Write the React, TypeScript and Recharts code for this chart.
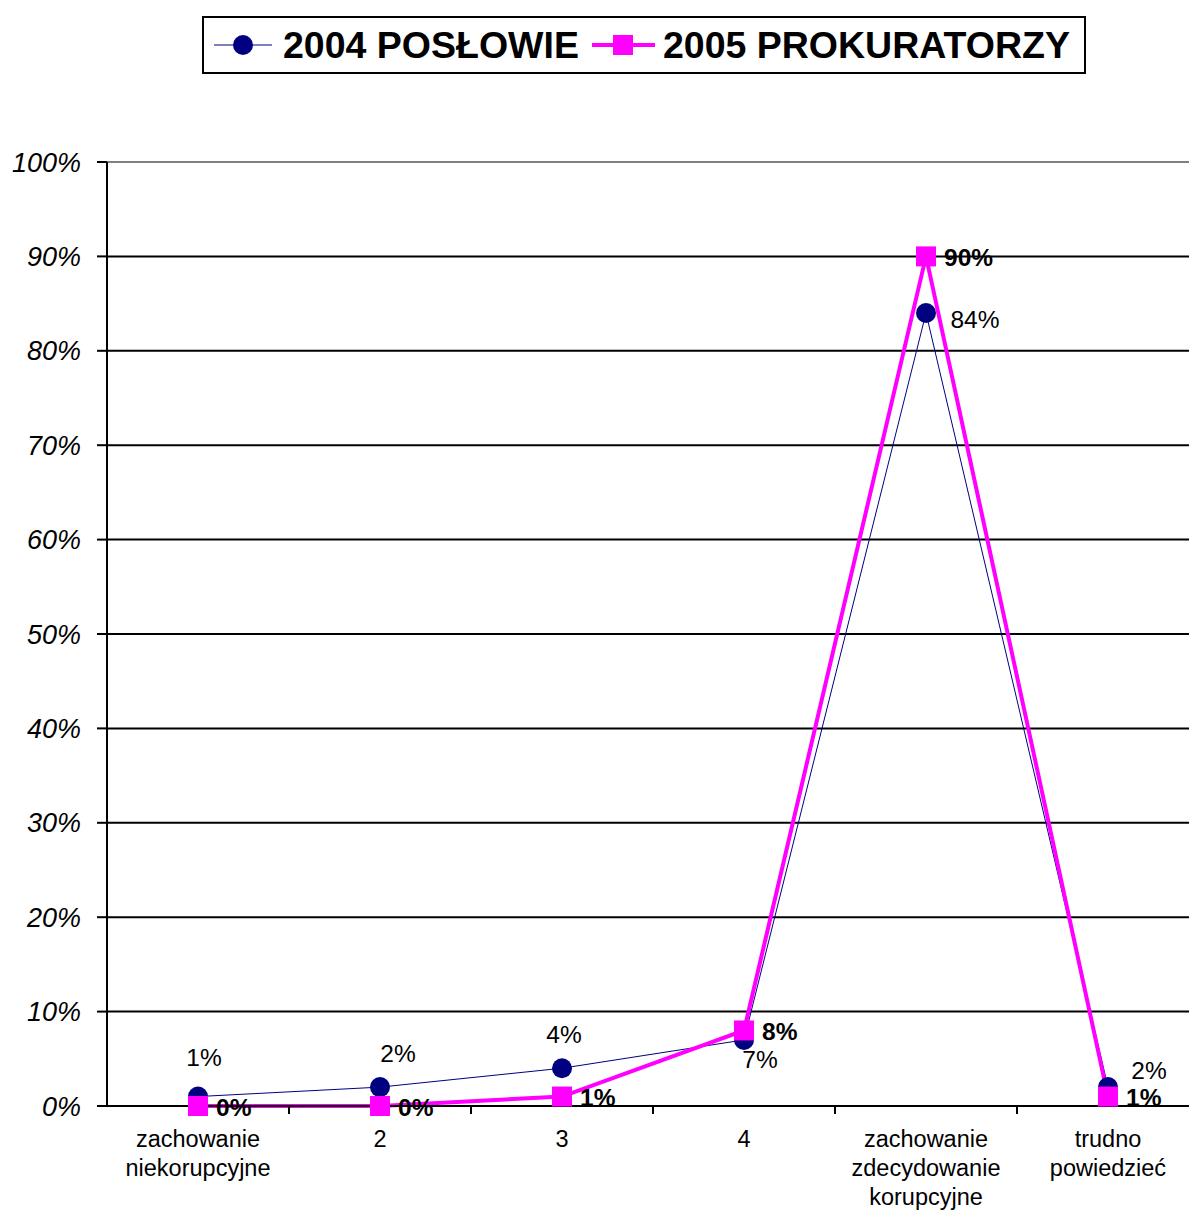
import React from 'react';
import { LineChart, Line, XAxis, YAxis, CartesianGrid, Legend, LabelList, ReferenceLine } from 'recharts';

const categories = [
  'zachowanie\nniekorupcyjne',
  '2',
  '3',
  '4',
  'zachowanie\nzdecydowanie\nkorupcyjne',
  'trudno\npowiedzieć',
];
const poslowie2004 = [1, 2, 4, 7, 84, 2];
const prokuratorzy2005 = [0, 0, 1, 8, 90, 1];
const yTicks = [0, 10, 20, 30, 40, 50, 60, 70, 80, 90, 100];
const seriesNames = ['2004 POSŁOWIE', '2005 PROKURATORZY'];

const data = categories.map((c, i) => ({
  cat: c,
  s2004: poslowie2004[i],
  s2005: prokuratorzy2005[i],
}));

const FONT = '"Liberation Sans", Arial, sans-serif';
const NAVY = '#000080';
const MAGENTA = '#FF00FF';

// label placement (style) for the 2004 series, per point
const label2004Offsets: [number, number][] = [
  [6, -39],
  [18, -34],
  [2, -34],
  [16, 20],
  [49, 6],
  [41, -17],
];

const CategoryTick = (props: any) => {
  const { x, y, payload } = props;
  const lines = String(payload.value).split('\n');
  const half = payload.offset ?? 0;
  return (
    <g>
      <line x1={x + half} x2={x + half} y1={y - 8} y2={y} stroke="#000" strokeWidth={2} />
      <text x={x} y={y} textAnchor="middle" fontFamily={FONT} fontSize={23.5} fill="#000">
        {lines.map((l, i) => (
          <tspan key={i} x={x} dy={i === 0 ? 33 : 29}>
            {l}
          </tspan>
        ))}
      </text>
    </g>
  );
};

const CircleDot = (props: any) => {
  const { cx, cy, index } = props;
  if (cx == null || cy == null) return <g key={index} />;
  return <circle key={index} cx={cx} cy={cy} r={10} fill={NAVY} />;
};

const SquareDot = (props: any) => {
  const { cx, cy, index } = props;
  if (cx == null || cy == null) return <g key={index} />;
  return <rect key={index} x={cx - 10} y={cy - 10} width={20} height={20} fill={MAGENTA} />;
};

const Label2004 = (props: any) => {
  const { x, y, value, index } = props;
  const [dx, dy] = label2004Offsets[index] || [0, -20];
  return (
    <text
      x={x + dx}
      y={y + dy}
      textAnchor="middle"
      dominantBaseline="central"
      fontFamily={FONT}
      fontSize={24.5}
      fill="#000"
    >
      {value}%
    </text>
  );
};

const Label2005 = (props: any) => {
  const { x, y, value } = props;
  return (
    <text
      x={x + 18}
      y={y + 1}
      textAnchor="start"
      dominantBaseline="central"
      fontFamily={FONT}
      fontSize={24.5}
      fontWeight="bold"
      fill="#000"
    >
      {value}%
    </text>
  );
};

const LegendContent = () => (
  <div
    style={{
      boxSizing: 'border-box',
      height: 58,
      width: 884,
      border: '2px solid #000',
      display: 'flex',
      alignItems: 'center',
      fontFamily: FONT,
      fontWeight: 'bold',
      fontSize: 37.5,
      color: '#000',
      background: '#fff',
      whiteSpace: 'nowrap',
    }}
  >
    <svg width={58} height={24} style={{ marginLeft: 10, marginRight: 11, flex: 'none' }}>
      <line x1={0} x2={58} y1={12} y2={12} stroke={NAVY} strokeWidth={1} />
      <circle cx={29} cy={12} r={10} fill={NAVY} />
    </svg>
    <span>{seriesNames[0]}</span>
    <svg width={63} height={24} style={{ marginLeft: 13, marginRight: 8, flex: 'none' }}>
      <line x1={0} x2={63} y1={12} y2={12} stroke={MAGENTA} strokeWidth={4} />
      <rect x={21} y={2} width={20} height={20} fill={MAGENTA} />
    </svg>
    <span>{seriesNames[1]}</span>
  </div>
);

export default function App() {
  return (
    <div
      style={{
        position: 'absolute',
        left: 0,
        top: 0,
        width: 1189,
        height: 1212,
        overflow: 'hidden',
        background: '#fff',
      }}
    >
      <LineChart
        width={1199}
        height={1212}
        data={data}
        margin={{ top: 104, right: 0, bottom: 0, left: 0 }}
      >
        <CartesianGrid vertical={false} stroke="#000" strokeWidth={2} />
        <ReferenceLine y={100} stroke="#808080" strokeWidth={2} />
        <XAxis
          dataKey="cat"
          scale="band"
          interval={0}
          height={106}
          tickSize={8}
          tickMargin={0}
          tickLine={false}
          axisLine={{ stroke: '#000', strokeWidth: 2 }}
          tick={<CategoryTick />}
        />
        <YAxis
          width={107}
          domain={[0, 100]}
          ticks={yTicks}
          interval={0}
          tickFormatter={(v: number) => `${v}%`}
          tickSize={10}
          tickMargin={16}
          axisLine={{ stroke: '#000', strokeWidth: 2 }}
          tickLine={{ stroke: '#000', strokeWidth: 2 }}
          tick={{ fill: '#000', fontSize: 27, fontStyle: 'italic', fontFamily: FONT }}
        />
        <Legend
          verticalAlign="top"
          align="left"
          wrapperStyle={{ top: 16, left: 202, width: 884 }}
          content={<LegendContent />}
        />
        <Line
          type="linear"
          dataKey="s2004"
          name={seriesNames[0]}
          stroke={NAVY}
          strokeWidth={1}
          dot={<CircleDot />}
          activeDot={false}
          isAnimationActive={false}
        >
          <LabelList dataKey="s2004" content={<Label2004 />} />
        </Line>
        <Line
          type="linear"
          dataKey="s2005"
          name={seriesNames[1]}
          stroke={MAGENTA}
          strokeWidth={4}
          dot={<SquareDot />}
          activeDot={false}
          isAnimationActive={false}
        >
          <LabelList dataKey="s2005" content={<Label2005 />} />
        </Line>
      </LineChart>
    </div>
  );
}
